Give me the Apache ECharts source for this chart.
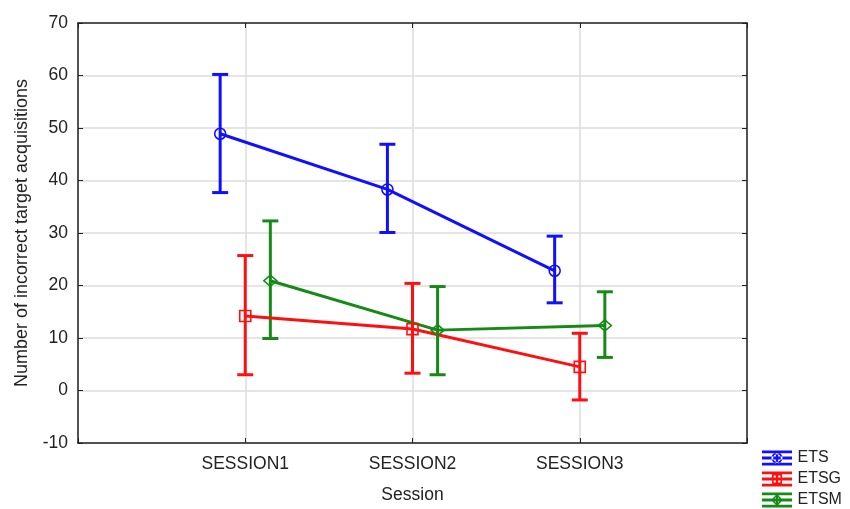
<!DOCTYPE html>
<html>
<head>
<meta charset="utf-8">
<script src="https://cdn.jsdelivr.net/npm/echarts@6/dist/echarts.min.js"></script>
<style>
  html, body { margin: 0; padding: 0; background: #fff; }
  #chart { width: 850px; height: 509px; }
</style>
</head>
<body>
<div id="chart"></div>
<script>
// Sessions on the x axis
const sessions = ['SESSION1', 'SESSION2', 'SESSION3'];

// Means and interval bounds per group
const etsMean  = [48.9, 38.3, 22.8];
const etsLow   = [37.7, 30.1, 16.7];
const etsHigh  = [60.2, 46.9, 29.4];

const etsgMean = [14.2, 11.7, 4.5];
const etsgLow  = [3.0, 3.3, -1.8];
const etsgHigh = [25.7, 20.4, 10.9];

const etsmMean = [20.9, 11.5, 12.4];
const etsmLow  = [9.9, 3.0, 6.3];
const etsmHigh = [32.3, 19.8, 18.8];

// Value axis range
const yMin = -10, yMax = 70, yStep = 10;

const FONT = "'Liberation Sans', Arial, sans-serif";
const TEXT = '#222';
const AXIS = '#222';
const GRID = '#dcdcdc';

// Legend glyphs: three bars, a vertical stroke and a hollow marker
const bars = 'M0,0 H30 V2.8 H0 Z M0,6.1 H30 V8.9 H0 Z M0,12.2 H30 V15 H0 Z M13.9,0 H16.1 V15 H13.9 Z ';
const glyphCircle = 'path://' + bars +
  'M20.5,7.5 A5.5,5.5 0 1,0 9.5,7.5 A5.5,5.5 0 1,0 20.5,7.5 Z ' +
  'M18.8,7.5 A3.8,3.8 0 1,1 11.2,7.5 A3.8,3.8 0 1,1 18.8,7.5 Z';
const glyphSquare = 'path://' + bars +
  'M10,2.5 H20 V12.5 H10 Z M11.6,4.1 V10.9 H18.4 V4.1 Z';
const glyphDiamond = 'path://' + bars +
  'M15,1.5 L21,7.5 L15,13.5 L9,7.5 Z M15,3.6 L11.1,7.5 L15,11.4 L18.9,7.5 Z';

const groups = [
  { name: 'ETS',  color: '#1010ff', mean: etsMean,  low: etsLow,  high: etsHigh,  shift: -0.15,
    symbol: 'circle', size: 11, glyph: glyphCircle },
  { name: 'ETSG', color: '#ff1010', mean: etsgMean, low: etsgLow, high: etsgHigh, shift: 0,
    symbol: 'rect', size: 11, glyph: glyphSquare },
  { name: 'ETSM', color: '#168a16', mean: etsmMean, low: etsmLow, high: etsmHigh, shift: 0.15,
    symbol: 'diamond', size: [13, 11], glyph: glyphDiamond }
];

const series = [];
groups.forEach(g => {
  // whiskers
  series.push({
    name: g.name,
    type: 'custom',
    silent: true,
    z: 2,
    data: g.mean.map((m, i) => [i + 1 + g.shift, g.low[i], g.high[i]]),
    renderItem: (params, api) => {
      const x = api.value(0);
      const top = api.coord([x, api.value(2)]);
      const bot = api.coord([x, api.value(1)]);
      const half = 8;
      const style = { stroke: g.color, lineWidth: 3, fill: null };
      return {
        type: 'group',
        children: [
          { type: 'line', shape: { x1: top[0], y1: top[1], x2: bot[0], y2: bot[1] }, style },
          { type: 'line', shape: { x1: top[0] - half, y1: top[1], x2: top[0] + half, y2: top[1] }, style },
          { type: 'line', shape: { x1: bot[0] - half, y1: bot[1], x2: bot[0] + half, y2: bot[1] }, style }
        ]
      };
    }
  });
  // means joined by a line
  series.push({
    name: g.name,
    type: 'line',
    z: 3,
    data: g.mean.map((m, i) => [i + 1 + g.shift, m]),
    symbol: g.symbol,
    symbolSize: g.size,
    showAllSymbol: true,
    lineStyle: { color: g.color, width: 3 },
    itemStyle: { color: 'rgba(255,255,255,0)', borderColor: g.color, borderWidth: 1.6 },
    emphasis: { disabled: true }
  });
});

const chart = echarts.init(document.getElementById('chart'), null, { renderer: 'canvas' });
chart.setOption({
  animation: false,
  backgroundColor: '#fff',
  textStyle: { fontFamily: FONT },
  grid: { left: 78, right: 103, top: 23, bottom: 66, containLabel: false },
  legend: {
    orient: 'vertical',
    left: 762,
    top: 450,
    padding: 0,
    itemWidth: 31,
    itemHeight: 15,
    itemGap: 5,
    selectedMode: false,
    textStyle: { fontFamily: FONT, fontSize: 16, color: TEXT },
    data: groups.map(g => ({ name: g.name, icon: g.glyph, itemStyle: { color: g.color, borderWidth: 0 } }))
  },
  xAxis: [
    {
      type: 'value', min: 0, max: 4, interval: 1, position: 'bottom',
      name: 'Session', nameLocation: 'middle', nameGap: 43,
      nameTextStyle: { fontFamily: FONT, fontSize: 17.5, color: TEXT },
      axisLine: { show: true, onZero: false, lineStyle: { color: AXIS, width: 1.5 } },
      axisTick: { show: true, inside: true, length: 5, lineStyle: { color: AXIS } },
      axisLabel: {
        fontFamily: FONT, fontSize: 17.5, color: TEXT, margin: 12,
        formatter: v => sessions[v - 1] || ''
      },
      splitLine: { show: true, lineStyle: { color: GRID, width: 1.5 } }
    },
    {
      type: 'value', min: 0, max: 4, interval: 1, position: 'top',
      axisLine: { show: true, onZero: false, lineStyle: { color: AXIS, width: 1.5 } },
      axisTick: { show: true, inside: true, length: 5, lineStyle: { color: AXIS } },
      axisLabel: { show: false },
      splitLine: { show: false }
    }
  ],
  yAxis: [
    {
      type: 'value', min: yMin, max: yMax, interval: yStep, position: 'left',
      name: 'Number of incorrect target acquisitions', nameLocation: 'middle', nameGap: 47,
      nameTextStyle: { fontFamily: FONT, fontSize: 18, color: TEXT },
      axisLine: { show: true, onZero: false, lineStyle: { color: AXIS, width: 1.5 } },
      axisTick: { show: true, inside: true, length: 5, lineStyle: { color: AXIS } },
      axisLabel: { fontFamily: FONT, fontSize: 17.5, color: TEXT, margin: 10 },
      splitLine: { show: true, lineStyle: { color: GRID, width: 1.5 } }
    },
    {
      type: 'value', min: yMin, max: yMax, interval: yStep, position: 'right',
      axisLine: { show: true, onZero: false, lineStyle: { color: AXIS, width: 1.5 } },
      axisTick: { show: true, inside: true, length: 5, lineStyle: { color: AXIS } },
      axisLabel: { show: false },
      splitLine: { show: false }
    }
  ],
  series: series
});
</script>
</body>
</html>
